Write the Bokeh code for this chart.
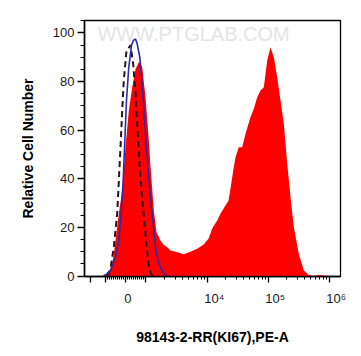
import math
from bokeh.plotting import figure
from bokeh.models import Range1d, FixedTicker, Label
from bokeh.embed import file_html
from bokeh.resources import INLINE

# ---- data (x in biexponential display units: decades, 0 -> 0) ----
red_x = [-0.352, -0.287, -0.238, -0.205, -0.172, -0.118, -0.062, -0.008, 0.046, 0.102,
         0.156, 0.210, 0.238, 0.266, 0.320, 0.374, 0.402, 0.456, 0.500, 0.538,
         0.566, 0.620, 0.675, 0.730, 0.839, 0.948, 1.057, 1.167, 1.275, 1.357,
         1.413, 1.495, 1.549, 1.631, 1.680, 1.713, 1.762, 1.795, 1.849, 1.905,
         1.959, 2.041, 2.095, 2.151, 2.205, 2.259, 2.315, 2.369, 2.423, 2.479,
         2.533, 2.587, 2.643, 2.697, 2.751, 2.833, 2.915, 2.992, 3.057, 3.189, 3.287]
red_y = [0, 1, 4, 8, 14.6, 25.6, 35.2, 53, 68, 77.6,
         85, 87.9, 87.5, 85.9, 73.5, 55.7, 45, 27, 18, 16,
         14.5, 12.8, 11.8, 10.5, 9.8, 9.0, 10.0, 11.2, 13.0, 15.5,
         19.5, 22.8, 25.6, 29, 31, 36, 44, 48.9, 53, 53,
         58.5, 65.3, 68.8, 73.5, 76.3, 77.6, 88.6, 94.1, 90, 81.7,
         72.2, 62.6, 46.1, 32.4, 20.1, 9.1, 2.3, 0.5, 0, 0.4, 0]

blue_x = [-0.369, -0.320, -0.254, -0.172, -0.118, -0.079, -0.046, -0.028, 0.008, 0.046,
          0.090, 0.123, 0.156, 0.184, 0.226, 0.266, 0.320, 0.374, 0.430, 0.484,
          0.533, 0.566, 0.615, 0.675]
blue_y = [0, 0.8, 2.3, 7.7, 14.6, 25.6, 39.3, 50, 72.2, 85.9,
          94.8, 97, 97.5, 95.5, 90, 79, 58.5, 40, 25.6, 11.8,
          5.5, 3.6, 1.2, 0]

dash_x = [-0.303, -0.254, -0.200, -0.144, -0.090, -0.062, -0.036, 0.008, 0.036, 0.074,
          0.118, 0.156, 0.193, 0.238, 0.279, 0.320, 0.369, 0.402, 0.434]
dash_y = [0, 3, 11.8, 25.6, 53, 68, 80.4, 92.7, 93.4, 95,
          87.3, 75, 58.5, 40, 28, 17, 5, 1.5, 0]

y_ticks = [0, 20, 40, 60, 80, 100]
x_major_values = [-1e4, -1e3, 0, 1e3, 1e4, 1e5, 1e6]
x_labels = {0: "0", 1e4: "10\u2074", 1e5: "10\u2075", 1e6: "10\u2076"}
x_title = "98143-2-RR(KI67),PE-A"
y_title = "Relative Cell Number"
watermark = "WWW.PTGLAB.COM"


def biex(v):
    a = 0.328
    if abs(v) <= 1000:
        return v / 1000.0 * a
    if v > 0:
        return a + math.log10(v / 1000.0)
    return -(a + 0.25 * math.log10(-v / 1000.0))


major_u = [biex(v) for v in x_major_values]
minor_vals = [k * 100 for k in range(1, 10)] + [-k * 100 for k in range(1, 10)]
for n in (3, 4, 5):
    minor_vals += [k * 10 ** n for k in range(2, 10)]
minor_u = [biex(v) for v in minor_vals]

x0, x1 = -0.680, 3.516
y0, y1 = -0.2, 105.1

p = figure(width=353, height=348, output_backend="svg", toolbar_location=None,
           x_range=Range1d(x0, x1), y_range=Range1d(y0, y1),
           min_border_left=84, min_border_right=13, min_border_top=20,
           min_border_bottom=72)
p.background_fill_color = "white"
p.border_fill_color = "white"
p.grid.visible = False
p.outline_line_color = "black"
p.outline_line_width = 1.3

p.varea(x=red_x, y1=[0] * len(red_x), y2=red_y, fill_color="#ff0000", fill_alpha=1.0)
p.line(dash_x, dash_y, line_color="#2b1020", line_width=2, line_dash="6 4")
p.line(blue_x, blue_y, line_color="#2a2aa8", line_width=1.6)

wm = Label(x=-0.467, y=99.7, text=watermark, text_baseline="middle", text_align="left",
           text_font="Liberation Sans", text_font_size="20px",
           text_color="#e4e4e4", level="underlay")
p.add_layout(wm)

# y axis
yax = p.yaxis[0]
yax.ticker = FixedTicker(ticks=y_ticks, minor_ticks=[v for v in range(0, 106, 5) if v % 20])
yax.major_tick_out = 7
yax.major_tick_in = 0
yax.minor_tick_out = 4
yax.minor_tick_in = 0
yax.major_label_standoff = 3
yax.major_label_text_font = "Liberation Sans"
yax.major_label_text_font_size = "13px"
yax.major_label_text_color = "#1a1a1a"
yax.axis_line_width = 1.5
yax.major_tick_line_width = 1.3
yax.axis_label = y_title
yax.axis_label_text_font = "Liberation Sans"
yax.axis_label_text_font_style = "bold"
yax.axis_label_text_font_size = "14px"
yax.axis_label_text_color = "black"
yax.axis_label_standoff = 14

# x axis
xax = p.xaxis[0]
xax.ticker = FixedTicker(ticks=major_u, minor_ticks=minor_u)
xax.major_tick_out = 6
xax.major_tick_in = 0
xax.minor_tick_out = 3
xax.minor_tick_in = 0
xax.axis_line_width = 1.5
xax.major_tick_line_width = 1.3
overrides = {u: "" for u in major_u}
for v, txt in x_labels.items():
    pad = "\u00a0" if v == 0 else "\u00a0\u00a0\u00a0\u00a0"
    overrides[biex(v)] = pad + txt
xax.major_label_overrides = overrides
xax.major_label_text_font = "Liberation Sans"
xax.major_label_text_font_size = "13px"
xax.major_label_text_color = "#1a1a1a"
xax.major_label_standoff = 8
xax.axis_label = x_title
xax.axis_label_text_font = "Liberation Sans"
xax.axis_label_text_font_style = "bold"
xax.axis_label_text_font_size = "14px"
xax.axis_label_text_color = "black"
xax.axis_label_standoff = 20

open("out.html", "w").write(file_html(p, INLINE))
